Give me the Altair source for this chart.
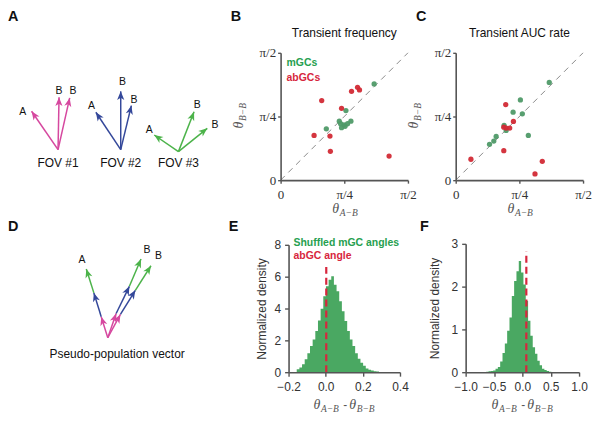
import math
import altair as alt
import pandas as pd

PI = math.pi

# ------------------------------------------------------------------ data
# Panel B: transient frequency, angles in radians (theta_A-B, theta_B-B)
b_mgc_x = [1.154, 0.806, 0.564, 0.724, 0.740, 0.781, 0.752, 0.826, 0.867, 0.795]
b_mgc_y = [1.187, 0.859, 0.634, 0.728, 0.696, 0.683, 0.647, 0.696, 0.728, 0.665]
b_abgc_x = [0.875, 0.949, 0.973, 0.507, 0.752, 0.413, 0.609, 0.614, 1.338]
b_abgc_y = [1.096, 1.145, 1.113, 0.982, 0.887, 0.552, 0.544, 0.356, 0.298]

# Panel C: transient AUC rate
c_mgc_x = [1.154, 0.798, 0.708, 0.822, 0.597, 0.622, 0.896, 0.499, 0.470, 0.417]
c_mgc_y = [1.206, 0.990, 0.838, 0.818, 0.675, 0.614, 0.552, 0.540, 0.482, 0.442]
c_abgc_x = [0.617, 0.712, 0.593, 0.622, 0.666, 0.593, 0.188, 1.068, 0.978]
c_abgc_y = [0.933, 0.724, 0.654, 0.642, 0.642, 0.364, 0.258, 0.233, 0.077]

# Panel E: shuffled mGC angle differences (histogram, normalized density)
e_bin_start = -0.156
e_bin_width = 0.0143
e_density = [0.19, 0.29, 0.50, 0.81, 1.19, 1.65, 2.06, 2.58, 3.25, 3.98, 4.77,
             5.40, 5.81, 6.02, 5.50, 5.08, 4.46, 3.83, 3.21, 2.58, 2.06, 1.65,
             1.19, 0.85, 0.60, 0.40, 0.23, 0.15, 0.10, 0.06, 0.04]
e_abgc_angle = 0.003
e_abgc_top = 6.6

# Panel F
f_bin_start = -0.637
f_bin_width = 0.041
f_density = [0.01, 0.02, 0.03, 0.04, 0.08, 0.12, 0.25, 0.45, 0.67, 0.97, 1.28,
             1.78, 2.13, 2.36, 2.60, 2.33, 2.05, 1.67, 1.20, 0.85, 0.58, 0.43,
             0.27, 0.16, 0.08, 0.05, 0.03, 0.01]
f_abgc_angle = 0.07
f_abgc_top = 2.82

# Panel A: schematic vectors per field of view (diagram units, y up)
fov_names = ["FOV #1", "FOV #2", "FOV #3"]
fov_base_x = [0.0, 63.0, 121.0]
fov_base_y = [0.0, 0.0, -2.0]
fov_tip_dx = [[-26.6, 1.0, 11.7], [-25.0, 0.0, 10.7], [-24.3, 15.7, 29.0]]
fov_tip_dy = [[38.6, 52.6, 52.0], [37.6, 58.6, 44.3], [16.7, 40.0, 23.4]]
fov_lab_dx = [[-35.6, 1.0, 15.0], [-29.3, 1.7, 13.3], [-29.3, 19.0, 36.7]]
fov_lab_dy = [[37.6, 59.3, 59.3], [44.3, 67.6, 50.0], [21.7, 46.7, 26.7]]
vec_names = ["A", "B", "B"]
fov_caption_y = -13.4

# Panel D: pseudo-population vector, chained FOV vectors
pp_chain_x = [[-6.6, -14.0, -21.6], [8.4, 21.7, 33.4], [12.7, 27.7, 43.4]]
pp_chain_y = [[21.0, 45.0, 69.0], [24.3, 51.6, 79.0], [23.3, 47.6, 72.3]]
pp_lab_x = [-26.0, 39.4, 51.0]
pp_lab_y = [77.6, 88.3, 81.6]
pp_caption = "Pseudo-population vector"
pp_caption_xy = [9.4, -16.7]

# ------------------------------------------------------------------ style
MAG, BLUE, DGREEN = "#d6489f", "#34489a", "#4cb34a"
FOV_COLORS = [MAG, BLUE, DGREEN]
PT_GREEN, PT_RED = "#4f9a68", "#d22a35"
LEG_GREEN, LEG_RED = "#27a050", "#d7263d"
HIST = "#4aa862"
AX = "#555555"
TXT = "#333333"
SANS = "Liberation Sans"
SERIF = "Liberation Serif"
ARROW = "M0,0L0.9,2.2L0,1.6L-0.9,2.2Z"

W, H = 582, 405
OFF = 13  # page offset of chart origin (8px margin + 5px padding)


def P(v):
    return v - OFF


def lin(dom, rng):
    return alt.Scale(domain=dom, range=rng, nice=False, zero=False)


def one(t):
    return pd.DataFrame({"t": [t]})


def ptext(t, x, y, size, color=TXT, weight="normal", font=SANS, align="left",
          baseline="alphabetic", angle=0, dx=0, dy=0, style="normal"):
    return alt.Chart(one(t)).mark_text(
        font=font, fontSize=size, fontWeight=weight, color=color, align=align,
        baseline=baseline, angle=angle, dx=dx, dy=dy, fontStyle=style
    ).encode(x=alt.value(P(x)), y=alt.value(P(y)), text="t:N")


def theta_label(sub, x, y, angle=0):
    # theta with a subscript, x,y = start of the label on its baseline
    return [
        ptext("θ", x, y, 14, color=AX, font=SERIF, style="italic", angle=angle),
        ptext(sub, x, y, 9.5, color=AX, font=SERIF, style="italic", angle=angle, dx=7.5, dy=3),
    ]


layers = []

# ------------------------------------------------------------------ panel letters
for letter, lx, ly in [("A", 8, 20.5), ("B", 232, 20.5), ("C", 418, 20.5),
                       ("D", 8, 231), ("E", 230, 231), ("F", 422, 231)]:
    layers.append(ptext(letter, lx, ly, 14.5, color="#111111", weight="bold"))

# ------------------------------------------------------------------ panel A
ax_x = lin([0, 100], [P(58.3), P(158.3)])
ax_y = lin([0, 100], [P(149.3), P(49.3)])
rows, labs = [], []
for i in range(3):
    for j in range(3):
        dx, dy = fov_tip_dx[i][j], fov_tip_dy[i][j]
        rows.append(dict(x0=fov_base_x[i], y0=fov_base_y[i],
                         x1=fov_base_x[i] + dx, y1=fov_base_y[i] + dy,
                         col=FOV_COLORS[i],
                         ang=(math.degrees(math.atan2(dx, dy)) + 360) % 360))
        labs.append(dict(x=fov_base_x[i] + fov_lab_dx[i][j],
                         y=fov_base_y[i] + fov_lab_dy[i][j], t=vec_names[j]))
dfA = pd.DataFrame(rows)
dfAl = pd.DataFrame(labs)
dfAc = pd.DataFrame(dict(x=fov_base_x, y=[fov_caption_y] * 3, t=fov_names))


def arrow_layers(df, xs, ys):
    rule = alt.Chart(df).mark_rule(strokeWidth=1.5).encode(
        x=alt.X("x0:Q", scale=xs, axis=None), y=alt.Y("y0:Q", scale=ys, axis=None),
        x2="x1:Q", y2="y1:Q", color=alt.Color("col:N", scale=None))
    head = alt.Chart(df).mark_point(shape=ARROW, filled=True, size=64, opacity=1,
                                    strokeWidth=0).encode(
        x=alt.X("x1:Q", scale=xs, axis=None), y=alt.Y("y1:Q", scale=ys, axis=None),
        angle=alt.Angle("ang:Q", scale=None), color=alt.Color("col:N", scale=None))
    return [rule, head]


layers += arrow_layers(dfA, ax_x, ax_y)
layers.append(alt.Chart(dfAl).mark_text(font=SANS, fontSize=10.5, color="#111111",
                                        baseline="middle").encode(
    x=alt.X("x:Q", scale=ax_x, axis=None), y=alt.Y("y:Q", scale=ax_y, axis=None), text="t:N"))
layers.append(alt.Chart(dfAc).mark_text(font=SANS, fontSize=12, color="#111111",
                                        baseline="middle").encode(
    x=alt.X("x:Q", scale=ax_x, axis=None), y=alt.Y("y:Q", scale=ax_y, axis=None), text="t:N"))

# ------------------------------------------------------------------ panel D
dx_s = lin([0, 100], [P(108.3), P(208.3)])
dy_s = lin([0, 100], [P(338.3), P(238.3)])
rows = []
for k in range(3):
    px0, py0 = 0.0, 0.0
    for c in range(3):
        x1, y1 = pp_chain_x[k][c], pp_chain_y[k][c]
        rows.append(dict(x0=px0, y0=py0, x1=x1, y1=y1, col=FOV_COLORS[c],
                         ang=(math.degrees(math.atan2(x1 - px0, y1 - py0)) + 360) % 360))
        px0, py0 = x1, y1
dfD = pd.DataFrame(rows)
layers += arrow_layers(dfD, dx_s, dy_s)
dfDl = pd.DataFrame(dict(x=pp_lab_x, y=pp_lab_y, t=vec_names))
layers.append(alt.Chart(dfDl).mark_text(font=SANS, fontSize=10.5, color="#111111",
                                        baseline="middle").encode(
    x=alt.X("x:Q", scale=dx_s, axis=None), y=alt.Y("y:Q", scale=dy_s, axis=None), text="t:N"))
dfDc = pd.DataFrame(dict(x=[pp_caption_xy[0]], y=[pp_caption_xy[1]], t=[pp_caption]))
layers.append(alt.Chart(dfDc).mark_text(font=SANS, fontSize=12, color="#111111",
                                        baseline="middle").encode(
    x=alt.X("x:Q", scale=dx_s, axis=None), y=alt.Y("y:Q", scale=dy_s, axis=None), text="t:N"))

# ------------------------------------------------------------------ panels B, C
PI_LABELS = "datum.value < 0.1 ? '0' : (datum.value < 1 ? 'π/4' : 'π/2')"


def scatter_panel(mx, my, ax_, ay_, x_px, y_px, title, legend):
    xs = lin([0, PI / 2], [P(x_px[0]), P(x_px[1])])
    ys = lin([0, PI / 2], [P(y_px[0]), P(y_px[1])])
    common = dict(domainColor=AX, domainWidth=1.6, tickColor=AX, tickWidth=1.4,
                  tickSize=3, labelColor=TXT, labelFont=SERIF, labelFontSize=13,
                  values=[0, PI / 4, PI / 2], labelExpr=PI_LABELS, title=None,
                  grid=False, labelFlush=False, labelOverlap=False, zindex=1)
    xaxis = alt.Axis(orient="bottom", offset=P(y_px[0]) - H, labelPadding=5, **common)
    yaxis = alt.Axis(orient="left", offset=-P(x_px[0]), labelPadding=2, **common)
    out = []
    diag = pd.DataFrame({"a": [0, PI / 2], "b": [0, PI / 2]})
    out.append(alt.Chart(diag).mark_line(color="#8a8a8a", strokeWidth=1,
                                         strokeDash=[6, 5]).encode(
        x=alt.X("a:Q", scale=xs, axis=None), y=alt.Y("b:Q", scale=ys, axis=None)))
    pts = pd.DataFrame({
        "tx": list(mx) + list(ax_), "ty": list(my) + list(ay_),
        "col": [PT_GREEN] * len(mx) + [PT_RED] * len(ax_)})
    out.append(alt.Chart(pts).mark_circle(size=28, opacity=0.95).encode(
        x=alt.X("tx:Q", scale=xs, axis=xaxis), y=alt.Y("ty:Q", scale=ys, axis=yaxis),
        color=alt.Color("col:N", scale=None)))
    cx = (x_px[0] + x_px[1]) / 2
    out.append(ptext(title, cx, 36, 12, color="#111111", align="center"))
    if legend:
        out.append(ptext("mGCs", x_px[0] + 6, 65, 10.5, color=LEG_GREEN, weight="bold"))
        out.append(ptext("abGCs", x_px[0] + 6, 80, 10.5, color=LEG_RED, weight="bold"))
    out += theta_label("A−B", cx - 12, 213)
    out += theta_label("B−B", x_px[0] - 38, y_px[0] - 52, angle=270)
    return out


layers += scatter_panel(b_mgc_x, b_mgc_y, b_abgc_x, b_abgc_y, (282, 410), (180, 52),
                        "Transient frequency", True)
layers += scatter_panel(c_mgc_x, c_mgc_y, c_abgc_x, c_abgc_y, (458, 586), (180, 52),
                        "Transient AUC rate", False)

# ------------------------------------------------------------------ panels E, F


def hist_panel(start, width, dens, xdom, xvals, ydom, yvals, x_px, y_px,
               abgc, abgc_top, title_pad, legend):
    xs = lin(xdom, [P(x_px[0]), P(x_px[1])])
    ys = lin(ydom, [P(y_px[0]), P(y_px[1])])
    common = dict(domainColor=AX, domainWidth=1.6, tickColor=AX, tickWidth=1.4,
                  tickSize=4, labelColor=TXT, labelFont=SANS, labelFontSize=12,
                  grid=False, labelFlush=False, labelOverlap=False, zindex=1)
    xaxis = alt.Axis(orient="bottom", offset=P(y_px[0]) - H, values=xvals,
                     format=".1f", labelPadding=5, title=None, **common)
    yaxis = alt.Axis(orient="left", offset=-P(x_px[0]), values=yvals, format="d",
                     labelPadding=4, title="Normalized density", titleFont=SANS,
                     titleFontSize=12, titleFontWeight="normal", titleColor=TXT,
                     titlePadding=title_pad, **common)
    edges = [start + i * width for i in range(len(dens) + 1)]
    hist = pd.DataFrame({"edge": edges, "dens": list(dens) + [0.0]})
    out = [alt.Chart(hist).mark_area(interpolate="step-after", color=HIST, opacity=1).encode(
        x=alt.X("edge:Q", scale=xs, axis=xaxis), y=alt.Y("dens:Q", scale=ys, axis=yaxis))]
    red = pd.DataFrame({"v": [abgc], "lo": [0.0], "hi": [abgc_top]})
    out.append(alt.Chart(red).mark_rule(color=LEG_RED, strokeWidth=2.2,
                                        strokeDash=[7, 4]).encode(
        x=alt.X("v:Q", scale=xs, axis=None), y=alt.Y("lo:Q", scale=ys, axis=None),
        y2="hi:Q"))
    cx = (x_px[0] + x_px[1]) / 2
    sx = cx - 31
    out += theta_label("A−B", sx, 410)
    out.append(ptext("-", sx + 30, 410, 12, color=AX))
    out += theta_label("B−B", sx + 36, 410)
    if legend:
        out.append(ptext("Shuffled mGC angles", x_px[0] + 5, 246, 10.5,
                         color=LEG_GREEN, weight="bold"))
        out.append(ptext("abGC angle", x_px[0] + 5, 259, 10.5, color=LEG_RED,
                         weight="bold"))
    return out


layers += hist_panel(e_bin_start, e_bin_width, e_density, [-0.2, 0.4],
                     [-0.2, 0.0, 0.2, 0.4], [0, 8], [0, 2, 4, 6, 8],
                     (290, 402), (373, 245), e_abgc_angle, e_abgc_top, 6, True)
layers += hist_panel(f_bin_start, f_bin_width, f_density, [-1, 1],
                     [-1.0, -0.5, 0.0, 0.5, 1.0], [0, 3], [0, 1, 2, 3],
                     (468, 582), (373, 244), f_abgc_angle, f_abgc_top, 10, False)

chart = alt.layer(*layers).resolve_scale(x="independent", y="independent").properties(
    width=W, height=H,
    padding={"left": 5, "top": 5, "right": 0, "bottom": 0},
    autosize=alt.AutoSizeParams(type="none"),
    background="white",
).configure_view(strokeWidth=0)

chart.save("out.html", embed_options={"renderer": "svg", "actions": False})
